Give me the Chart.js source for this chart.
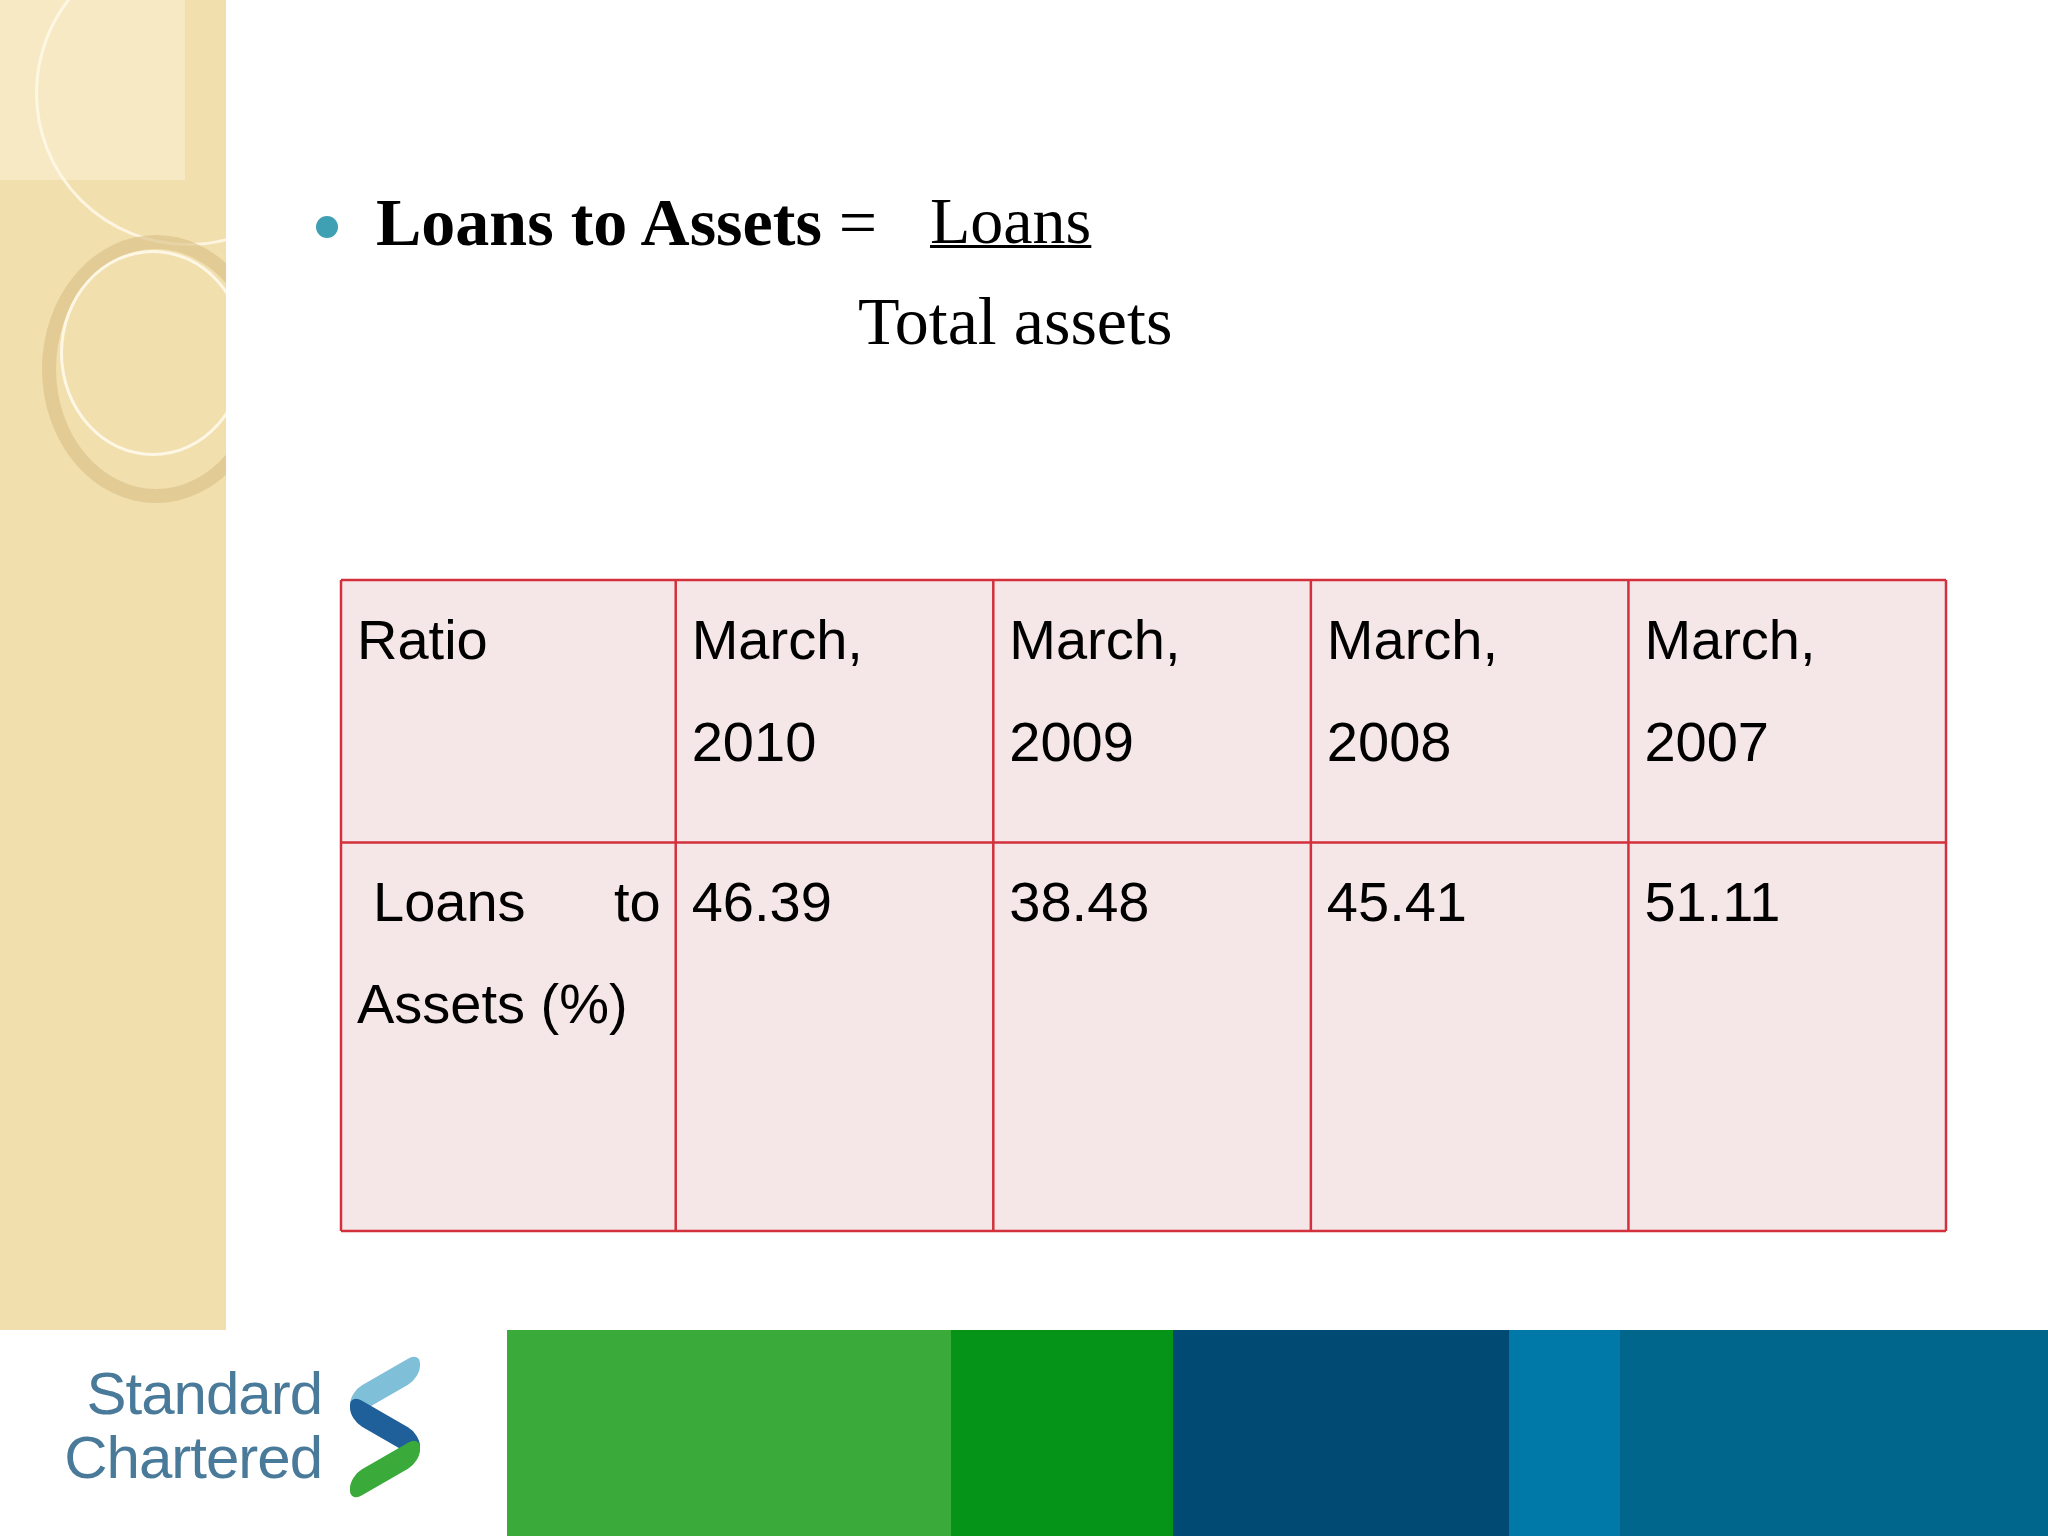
<!DOCTYPE html>
<html><head><meta charset="utf-8">
<script src="https://cdn.jsdelivr.net/npm/chart.js@4"></script>
<style>
html,body{margin:0;padding:0;width:2048px;height:1536px;overflow:hidden;background:#fff;position:relative}
.abs{position:absolute}
#strip{left:0;top:0;width:226px;height:1330px;background:#f2dfae;overflow:hidden}
.ring{position:absolute;border-radius:50%;border:3px solid rgba(255,250,235,0.8)}
#band div{position:absolute;top:1330px;height:206px}
.ttl{font-family:"Liberation Serif",serif;font-size:68px;color:#000;white-space:nowrap}
</style></head><body>
<div id="strip" class="abs">
  <div class="abs" style="left:0;top:0;width:185px;height:180px;background:#f7e9c4"></div>
  <div class="ring" style="left:35px;top:-60px;width:300px;height:300px"></div>
  <div class="ring" style="left:42px;top:235px;width:200px;height:240px;border:14px solid rgba(215,190,130,0.6)"></div>
  <div class="ring" style="left:60px;top:250px;width:180px;height:200px;border:3px solid rgba(255,250,235,0.9)"></div>
</div>
<div id="band">
  <div style="left:0;width:507px;background:#fff"></div>
  <div style="left:507px;width:444px;background:#3aaa3a"></div>
  <div style="left:951px;width:222px;background:#059318"></div>
  <div style="left:1173px;width:336px;background:#004a73"></div>
  <div style="left:1509px;width:111px;background:#0079a8"></div>
  <div style="left:1620px;width:428px;background:#00668c"></div>
</div>
<div class="abs" style="left:60px;top:1362px;width:262px;text-align:right;font-family:'Liberation Sans',Arial,sans-serif;font-size:60px;line-height:64px;color:#4a7a9a;letter-spacing:-1px">Standard<br>Chartered</div>
<div class="abs" style="left:345px;top:1352px;width:80px;height:150px">
  <div class="abs" style="left:5px;top:20px;width:70px;height:26px;background:#7fbfd8;transform:skewY(-30deg);border-radius:12px"></div>
  <div class="abs" style="left:5px;top:62px;width:70px;height:26px;background:#1f5f9a;transform:skewY(30deg);border-radius:12px"></div>
  <div class="abs" style="left:5px;top:104px;width:70px;height:26px;background:#3aaa3a;transform:skewY(-30deg);border-radius:12px"></div>
</div>
<div class="abs" style="left:316px;top:216px;width:22px;height:22px;border-radius:50%;background:#3f9fb3"></div>
<div class="abs ttl" style="left:376px;top:183px"><b>Loans to Assets</b> =</div>
<div class="abs ttl" style="left:930px;top:183px;font-size:66px;text-decoration:underline;text-decoration-thickness:3px">Loans</div>
<div class="abs ttl" style="left:858px;top:282px">Total assets</div>
<div class="abs" style="left:339px;top:578px;width:1609px;height:655px"><canvas id="c"></canvas></div>
<script>
const headers = ["Ratio", "March,\n2010", "March,\n2009", "March,\n2008", "March,\n2007"];
const rowLabel = ["Loans        to", "Assets (%)"];
const values = [46.39, 38.48, 45.41, 51.11];

const colEdges = [0, 1.054, 2.054, 3.054, 4.054, 5.054];
const rowEdges = [0, 1, 2.48];
const XMAX = 5.054, YMAX = 2.48;

const tablePlugin = {
  id: 'table',
  afterDraw(chart) {
    const ctx = chart.ctx, xs = chart.scales.x, ys = chart.scales.y;
    const X = v => xs.getPixelForValue(v), Y = v => ys.getPixelForValue(v);
    ctx.save();
    ctx.fillStyle = '#f5e6e8';
    ctx.fillRect(X(0), Y(0), X(XMAX) - X(0), Y(YMAX) - Y(0));
    ctx.strokeStyle = '#d2313c'; ctx.lineWidth = 2.5;
    colEdges.forEach(c => { ctx.beginPath(); ctx.moveTo(X(c), Y(0)); ctx.lineTo(X(c), Y(YMAX)); ctx.stroke(); });
    rowEdges.forEach(r => { ctx.beginPath(); ctx.moveTo(X(0), Y(r)); ctx.lineTo(X(XMAX), Y(r)); ctx.stroke(); });
    ctx.fillStyle = '#000';
    ctx.font = '56px "Liberation Sans", Arial, sans-serif';
    ctx.textBaseline = 'alphabetic';
    headers.forEach((h, i) => {
      h.split('\n').forEach((ln, k) => ctx.fillText(ln, X(colEdges[i]) + 16, Y(0) + 79 + k * 102));
    });
    ctx.fillText('Loans', X(0) + 32, Y(1) + 78);
    ctx.textAlign = 'right';
    ctx.fillText('to', X(colEdges[1]) - 15, Y(1) + 78);
    ctx.textAlign = 'left';
    ctx.fillText(rowLabel[1], X(0) + 16, Y(1) + 180);
    values.forEach((v, i) => ctx.fillText(v.toFixed(2), X(colEdges[i + 1]) + 16, Y(1) + 78));
    ctx.restore();
  }
};

new Chart(document.getElementById('c'), {
  type: 'scatter',
  data: { datasets: [{ data: [], pointRadius: 0 }] },
  options: {
    responsive: true, maintainAspectRatio: false, animation: false,
    layout: { padding: 2 },
    plugins: { legend: { display: false }, tooltip: { enabled: false } },
    scales: {
      x: { type: 'linear', min: 0, max: XMAX, display: false },
      y: { type: 'linear', min: 0, max: YMAX, reverse: true, display: false }
    }
  },
  plugins: [tablePlugin]
});
</script>
</body></html>
